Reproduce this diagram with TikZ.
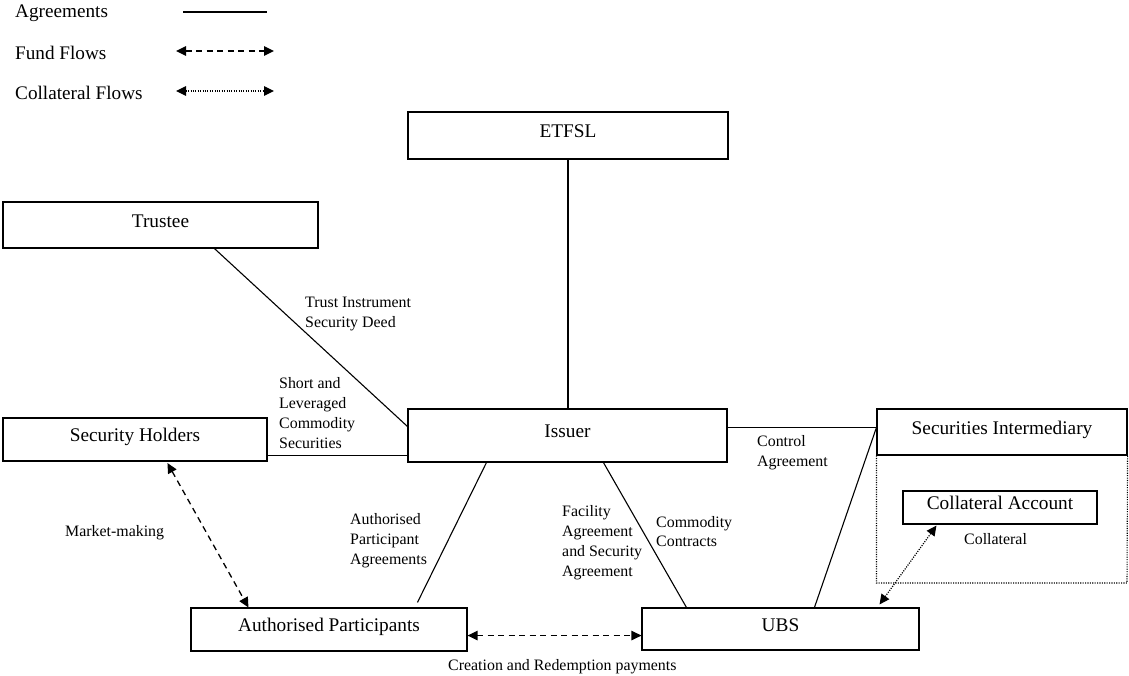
\documentclass[tikz,border=0pt]{standalone}
\usepackage{fontspec}
\setmainfont{Liberation Serif}
\usetikzlibrary{arrows.meta,calc}
\begin{document}
\begin{tikzpicture}[x=1pt,y=-1pt,
  box/.style={draw,line width=1.1pt,rectangle,inner sep=0pt,font=\fontsize{19.3}{23}\selectfont,text height=12pt,text depth=8pt},
  lbl/.style={inner sep=0pt,anchor=west,align=left,font=\fontsize{15.9}{19.8}\selectfont},
  leg/.style={inner sep=0pt,anchor=west,font=\fontsize{19.2}{23}\selectfont},
  agr/.style={line width=1.1pt},
  fund/.style={line width=1.3pt,dash pattern=on 6pt off 4.5pt,{Triangle[length=10pt,width=9.5pt]}-{Triangle[length=10pt,width=9.5pt]}},
  coll/.style={line width=1.2pt,dash pattern=on 1.1pt off 1.3pt,{Triangle[length=10pt,width=9.5pt]}-{Triangle[length=10pt,width=9.5pt]}},
  dotbox/.style={line width=1.1pt,dash pattern=on 1.1pt off 1.3pt}]
\useasboundingbox (0,0) rectangle (1129,675);

% legend
\node[leg] (lagr) at (15,13) {Agreements};
\node[leg] (lfund) at (15,53) {Fund Flows};
\node[leg] (lcoll) at (15,93) {Collateral Flows};
\coordinate (a1) at (183,12); \coordinate (a2) at (267,12);
\coordinate (f1) at (176,51); \coordinate (f2) at (274,51);
\coordinate (c1) at (176,91); \coordinate (c2) at (274,91);
\draw[agr] (a1) -- (a2);
\draw[fund] (f1) -- (f2);
\draw[coll] (c1) -- (c2);

% boxes
\node[box,minimum width=320pt,minimum height=47pt] (ETFSL) at (568,135.5) {ETFSL};
\node[box,minimum width=315pt,minimum height=46pt] (Trustee) at (160.5,225) {Trustee};
\node[box,minimum width=264pt,minimum height=43pt] (SH) at (135,439.5) {Security Holders};
\node[box,minimum width=319pt,minimum height=53pt] (Issuer) at (567.5,435.5) {Issuer};
\node[box,minimum width=250pt,minimum height=46pt] (SI) at (1002,432) {Securities Intermediary};
\coordinate (dbbr) at (1127,583);
\draw[dotbox] (SI.south west) -- (SI.south west |- dbbr) -- (dbbr) -- (SI.south east);
\node[box,minimum width=194pt,minimum height=33pt] (CA) at (1000,507.5) {Collateral Account};
\node[box,minimum width=276pt,minimum height=43pt] (AP) at (329,629.5) {Authorised Participants};
\node[box,minimum width=277pt,minimum height=42pt] (UBS) at (780.5,629) {UBS};

% agreements
\draw[agr] (ETFSL.south) -- (ETFSL.south |- Issuer.north);
\draw[agr] ($(Trustee.south west)+(212,0)$) -- ($(Issuer.north west)+(0,18)$);
\coordinate (sh1) at ($(SH.south east)+(0,-6)$);
\draw[agr] (sh1) -- (sh1 -| Issuer.west);
\coordinate (is1) at ($(Issuer.north east)+(0,19)$);
\draw[agr] (is1) -- (is1 -| SI.west);
\draw[agr] (is1 -| SI.west) -- ($(UBS.north west)+(173,0)$);
\draw[agr] ($(Issuer.south west)+(196,0)$) -- ($(UBS.north west)+(45,0)$);
\draw[agr] ($(Issuer.south west)+(79,0)$) -- ($(AP.north west)+(227,-5)$);

% flows
\draw[fund] ($(SH.south west)+(165,1.5)$) -- ($(AP.north west)+(58,0)$);
\coordinate (ap1) at ($(AP.south east)+(0,-16)$);
\draw[fund] (ap1) -- (ap1 -| UBS.west);
\draw[coll] ($(CA.south west)+(34,1)$) -- ($(UBS.north east)+(-40,-3)$);

% labels
\node[lbl] (ltrust) at (305,314) {Trust Instrument\\Security Deed};
\node[lbl] (lshort) at (279,413) {Short and\\Leveraged\\Commodity\\Securities};
\node[lbl] (lctrl) at (757,453) {Control\\Agreement};
\node[lbl] (lmm) at (65,533) {Market-making};
\node[lbl] (lapa) at (350,540.5) {Authorised\\Participant\\Agreements};
\node[lbl] (lfac) at (562,542.5) {Facility\\Agreement\\and Security\\Agreement};
\node[lbl] (lcom) at (656,531.5) {Commodity\\Contracts};
\node[lbl] (lcol) at (964,539) {Collateral};
\node[lbl] (lcre) at (448,667) {Creation and Redemption payments};
\end{tikzpicture}
\end{document}
